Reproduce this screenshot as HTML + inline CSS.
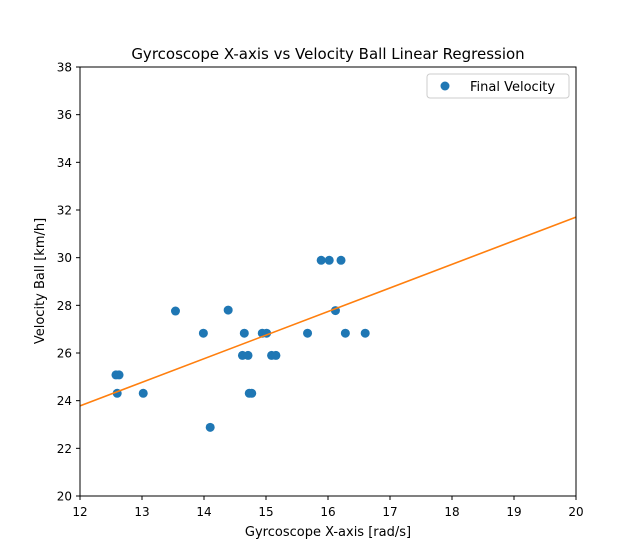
<!DOCTYPE html>
<html><head><meta charset="utf-8"><style>
body{margin:0;background:#fff}
svg{display:block;font-family:"DejaVu Sans","Liberation Sans",sans-serif}
</style></head><body>
<svg id="chart" width="640" height="557" viewBox="0 0 640 557">
<rect x="0" y="0" width="640" height="557" fill="#fff"/>
<text x="328" y="59" text-anchor="middle" font-size="15">Gyrcoscope X-axis vs Velocity Ball Linear Regression</text>
<g id="ticks"></g>
<g id="marks"></g>
<rect x="80" y="67" width="496" height="429" fill="none" stroke="#000" stroke-width="1"/>
<text x="328" y="536" text-anchor="middle" font-size="13">Gyrcoscope X-axis [rad/s]</text>
<text x="44" y="281" text-anchor="middle" font-size="13" transform="rotate(-90 44 281)">Velocity Ball [km/h]</text>
<g>
<rect x="427" y="74" width="142" height="24" rx="3" fill="#fff" stroke="#ccc"/>
<circle cx="445" cy="86" r="4.5" fill="#1f77b4"/>
<text x="470" y="91" font-size="13">Final Velocity</text>
</g>
</svg>
<script>
const xTicks = [12,13,14,15,16,17,18,19,20];
const yTicks = [20,22,24,26,28,30,32,34,36,38];
const gyroX = [12.58,12.63,12.60,13.02,13.54,13.99,14.10,14.39,14.65,14.62,14.71,14.73,14.77,14.94,15.01,15.09,15.16,15.67,15.89,16.02,16.21,16.12,16.28,16.60];
const velocity = [25.08,25.08,24.31,24.31,27.76,26.83,22.88,27.80,26.83,25.90,25.90,24.31,24.31,26.83,26.83,25.90,25.90,26.83,29.89,29.89,29.89,27.78,26.83,26.83];
const lineIntercept12 = 23.78;
const lineSlope = 0.99;
const NS="http://www.w3.org/2000/svg";
const sx = v => 80 + (v-12)/8*496;
const sy = v => 496 - (v-20)/18*429;
const ticks=document.getElementById('ticks'), marks=document.getElementById('marks');
function mk(tag,attrs,parent){const e=document.createElementNS(NS,tag);for(const k in attrs)e.setAttribute(k,attrs[k]);parent.appendChild(e);return e;}
xTicks.forEach(t=>{
  const l=mk('line',{x1:sx(t),x2:sx(t),y1:496,y2:500,stroke:'#000'},ticks);
  
  
  const tx=mk('text',{x:sx(t),y:516,'text-anchor':'middle','font-size':12},ticks);
  tx.textContent=t;
  
  
});
yTicks.forEach(t=>{
  const l=mk('line',{x1:76,x2:80,y1:sy(t),y2:sy(t),stroke:'#000'},ticks);
  
  
  const tx=mk('text',{x:72,y:sy(t)+4.5,'text-anchor':'end','font-size':12},ticks);
  tx.textContent=t;
  
  
});
gyroX.forEach((x,i)=>{
  const c=mk('circle',{cx:sx(x),cy:sy(velocity[i]),r:4.5,fill:'#1f77b4'},marks);
  
  
});
const ln=mk('line',{x1:sx(12),y1:sy(lineIntercept12),x2:sx(20),y2:sy(lineIntercept12+8*lineSlope),stroke:'#ff7f0e','stroke-width':1.6},marks);


</script>
</body></html>
